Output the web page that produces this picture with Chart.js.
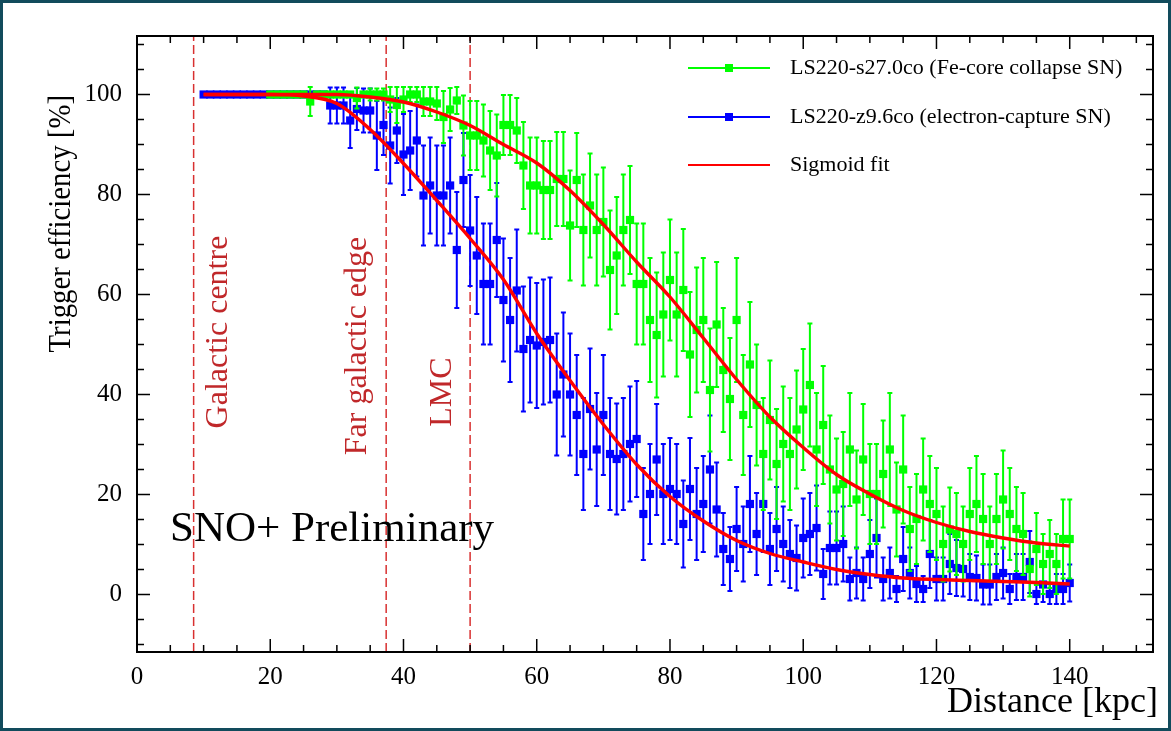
<!DOCTYPE html>
<html><head><meta charset="utf-8">
<script src="https://cdn.jsdelivr.net/npm/chart.js@4.4.0/dist/chart.umd.min.js"></script>
<style>html,body{margin:0;padding:0;background:#fff;}canvas{display:block;}</style>
</head><body>
<canvas id="c" width="1171" height="731"></canvas>
<script>
// ---------- data ----------
const distBlue = [10,11,12,13,14,15,16,17,18,19,20,21,22,23,24,25,26,27,28,29,30,31,32,33,34,35,36,37,38,39,40,41,42,43,44,45,46,47,48,49,50,51,52,53,54,55,56,57,58,59,60,61,62,63,64,65,66,67,68,69,70,71,72,73,74,75,76,77,78,79,80,81,82,83,84,85,86,87,88,89,90,91,92,93,94,95,96,97,98,99,100,101,102,103,104,105,106,107,108,109,110,111,112,113,114,115,116,117,118,119,120,121,122,123,124,125,126,127,128,129,130,131,132,133,134,135,136,137,138,139,140];
const effBlue = [100,100,100,100,100,100,100,100,100,100,100,100,100,100,100,100,100,100,100,97.8,97.8,97.8,94.8,97.1,96.8,96.8,91.8,93.9,89.8,92.8,88,88.8,90.8,79.8,81.8,79.8,79.8,81.8,68.9,82.9,72.8,67.8,62.1,62.1,70.9,58.9,54.9,60.8,49.1,50.9,49.8,50.5,50.9,40,44,40,35.9,28.1,37.1,29,35.9,28.1,27.1,28.1,30.1,31.1,16.1,20.1,27,20.1,21.1,20.1,14.1,21.1,16.1,18.1,25,17,9.1,7.1,13.1,10.1,18.1,12.1,18.1,9.1,13.1,10.1,8.1,7.3,11.3,12.1,13.3,4.1,9.3,9.3,10.1,3.1,4.3,3.1,8.1,11.3,3.1,4.3,1.1,7.1,4.3,2.1,1.1,8.1,3.1,3.1,6.1,5.3,5.1,3.5,3.3,2,2,3.5,4.3,1.1,3.5,3.5,6.5,0.1,2,0.1,1.1,1.1,2.3];
const errBlue = [0,0,0,0,0,0,0,0,0,0,0,0,0,0,0,0,0,0,0,3.6,3.6,3.6,5.5,4.2,4.4,4.4,6.9,6.0,7.6,6.5,8.1,7.9,7.2,10,9.6,10,10,9.6,11.6,9.4,11.1,11.7,12.1,12.1,11.4,12.3,12.4,12.2,12.5,12.5,12.5,12.5,12.5,12.2,12.4,12.2,12,11.2,12.1,11.3,12,11.2,11.1,11.2,11.5,11.6,9.2,10,11.1,10,10.2,10,8.7,10.2,9.2,9.6,10.8,9.4,7.2,6.4,8.4,7.5,9.6,8.2,9.6,7.2,8.4,7.5,6.8,6.5,7.9,8.2,8.5,5,7.3,7.3,7.5,4.3,5.1,4.3,6.8,7.9,4.3,5.1,2.6,6.4,5.1,3.6,2.6,6.8,4.3,4.3,6,5.6,5.5,4.6,4.5,4,4,4.6,5.1,3,4.6,4.6,6.2,2,3.5,2,3,3,3.7];

const distGreen = [20,21,22,23,24,25,26,27,28,29,30,31,32,33,34,35,36,37,38,39,40,41,42,43,44,45,46,47,48,49,50,51,52,53,54,55,56,57,58,59,60,61,62,63,64,65,66,67,68,69,70,71,72,73,74,75,76,77,78,79,80,81,82,83,84,85,86,87,88,89,90,91,92,93,94,95,96,97,98,99,100,101,102,103,104,105,106,107,108,109,110,111,112,113,114,115,116,117,118,119,120,121,122,123,124,125,126,127,128,129,130,131,132,133,134,135,136,137,138,139,140];
const effGreen = [100,100,100,100,100,100,98.6,100,100,100,100,100,100,99.3,100,100,100,100,99,97.9,99,100,100,98.6,98.6,98.2,95.5,97,98.8,93.8,91.8,91.8,90.8,88.8,87.8,93.9,93.9,92.8,85.8,81.8,81.8,80.9,80.9,83.1,83.1,73.8,82.9,72.9,77.8,72.9,74.5,64.9,67.8,72.9,74.9,62.1,62.1,54.9,51.9,56,62.9,56,60.9,48,52.9,54.9,40.9,54,44.9,39.1,54.9,35.9,46,37.9,28.1,34.9,26.1,30.1,28.1,33,37,41.9,29,33.9,25,21,22.1,29,19,27,20.1,20.1,24.1,29,17,25,13.1,15.1,21,18.1,16.1,10.1,13,12.1,10.1,16.1,18.1,15.1,10.1,15.1,19,16.1,13.1,12.1,5.1,9.1,6.1,8.1,6.1,11.1,11.1];
const errGreen = [0,0,0,0,0,0,2.9,0,0,0,0,0,0,2.1,0,1.2,1.2,1.2,2.5,3.6,2.5,1.5,1.5,2.9,2.9,3.3,5.2,4.3,2.7,6,6.9,6.9,7.2,7.9,8.2,6,6,6.5,8.7,9.6,9.6,9.8,9.8,9.4,9.4,11,9.4,11.1,10.4,11.1,10.9,11.9,11.7,11.1,10.8,12.1,12.1,12.4,12.5,12.4,12.1,12.4,12.2,12.5,12.5,12.4,12.3,12.5,12.4,12.2,12.4,12,12.5,12.1,11.2,11.9,11,11.5,11.2,11.8,12.1,12.3,11.3,11.8,10.8,10.2,10.4,11.3,9.8,11.1,10,10,10.7,11.3,9.4,10.8,8.4,9,10.2,9.6,9.2,7.5,8.4,8.2,7.5,9.2,9.6,9,7.5,9,9.8,9.2,8.4,8.2,5.5,7.2,6,6.8,6,7.9,7.9];

const fitX     = [10,15,20,25,30,35,40,45,50,55,60,65,70,75,80,85,90,95,100,105,110,115,120,125,130,135,140];
const fitGreen = [100,100,100,100,100,99.5,98.5,96.5,93.8,90,86.3,80.8,74,66.5,59.5,51.3,43,35.5,29.4,24,20.1,16.8,14.4,12.6,11.3,10.3,9.7];
const fitBlue  = [100,100,100,99.7,98.2,93,86.2,78.8,71.2,63,52.2,42.8,34,26,19.6,14.7,10.8,8.2,6.5,5,4,3.3,3,2.8,2.6,2.4,2.1];

const markerDist  = [8.5, 37.4, 50];
const markerNames = ['Galactic centre', 'Far galactic edge', 'LMC'];

const xTickLabels = ['0','20','40','60','80','100','120','140'];
const yTickLabels = ['0','20','40','60','80','100'];

const seriesNames = ['LS220-s27.0co (Fe-core collapse SN)', 'LS220-z9.6co (electron-capture SN)', 'Sigmoid fit'];

// ---------- chart ----------
const SERIF = "'Liberation Serif','Times New Roman',serif";
const GREEN = '#00ff00', BLUE = '#0000ff', RED = '#ff0000', DRED = '#c0282a';
const X_MIN = 0, X_MAX = 152.5, Y_MIN = -11.5, Y_MAX = 111.7;

function pts(xs, ys){ return xs.map((x,i)=>({x:x, y:ys[i]})); }

const datasets = [];
datasets.push({label: seriesNames[0], data: pts(distGreen, effGreen), errs: errGreen, showLine:false,
  pointStyle:'rect', pointRadius:5.8, pointHoverRadius:5.8, backgroundColor:GREEN, borderColor:GREEN, pointBorderWidth:0, order:2});
datasets.push({label: seriesNames[1], data: pts(distBlue, effBlue), errs: errBlue, showLine:false,
  pointStyle:'rect', pointRadius:5.8, pointHoverRadius:5.8, backgroundColor:BLUE, borderColor:BLUE, pointBorderWidth:0, order:3});
datasets.push({label: seriesNames[2], data: pts(fitX, fitGreen), showLine:true, pointRadius:0, borderColor:RED, borderWidth:3.4, cubicInterpolationMode:'monotone', order:1});
datasets.push({label: seriesNames[2]+' ', data: pts(fitX, fitBlue), showLine:true, pointRadius:0, borderColor:RED, borderWidth:3.4, cubicInterpolationMode:'monotone', order:1});
markerDist.forEach((d,i)=>{
  datasets.push({label: markerNames[i], data:[{x:d,y:Y_MIN},{x:d,y:Y_MAX}], showLine:true, pointRadius:0,
    borderColor:'#d83030', borderWidth:1.5, borderDash:[9,4], order:5});
});

const decor = {
  id:'decor',
  beforeDraw(chart){
    const c = chart.ctx; c.save(); c.fillStyle='#fff'; c.fillRect(0,0,chart.width,chart.height); c.restore();
  },
  beforeDatasetDraw(chart, args){
    const ds = chart.data.datasets[args.index];
    if(!ds.errs) return;
    const c = chart.ctx, ys = chart.scales.y, a = chart.chartArea;
    c.save();
    c.beginPath(); c.rect(a.left, a.top, a.right-a.left, a.bottom-a.top); c.clip();
    c.strokeStyle = ds.borderColor; c.lineWidth = 2;
    args.meta.data.forEach((p,i)=>{
      const e = ds.errs[i]; if(!e) return;
      const v = ds.data[i].y;
      const y1 = ys.getPixelForValue(v+e), y2 = ys.getPixelForValue(v-e);
      c.beginPath(); c.moveTo(p.x, y1); c.lineTo(p.x, y2);
      c.moveTo(p.x-2.5, y1); c.lineTo(p.x+2.5, y1);
      c.moveTo(p.x-2.5, y2); c.lineTo(p.x+2.5, y2);
      c.stroke();
    });
    c.restore();
  },
  afterDraw(chart){
    const c = chart.ctx, a = chart.chartArea, xs = chart.scales.x, ys = chart.scales.y;
    c.save();
    // frame
    c.strokeStyle='#000'; c.lineWidth=2;
    c.strokeRect(a.left, a.top, a.right-a.left, a.bottom-a.top);
    // inward ticks
    c.lineWidth=1.5;
    c.beginPath();
    for(let v=0; v<=X_MAX; v+=5){
      const px = xs.getPixelForValue(v); const L = (v%20===0)?13:7;
      c.moveTo(px, a.bottom); c.lineTo(px, a.bottom-L);
      c.moveTo(px, a.top); c.lineTo(px, a.top+L);
    }
    for(let v=-10; v<=Y_MAX; v+=5){
      const py = ys.getPixelForValue(v); const L = (v%20===0)?13:7;
      c.moveTo(a.left, py); c.lineTo(a.left+L, py);
      c.moveTo(a.right, py); c.lineTo(a.right-L, py);
    }
    c.stroke();

    // axis titles
    c.fillStyle='#000';
    c.font = '36px '+SERIF; c.textAlign='right'; c.textBaseline='alphabetic';
    c.fillText('Distance [kpc]', 1158, 712);
    c.save(); c.translate(70, 95); c.rotate(-Math.PI/2); c.scale(0.9, 1);
    c.font = '32px '+SERIF; c.textAlign='right'; c.fillText('Trigger efficiency [%]', 0, 0);
    c.restore();

    // SNO+ Preliminary
    c.font = '43px '+SERIF; c.textAlign='left'; c.textBaseline='middle';
    c.fillText('SNO+ Preliminary', 170, 530);

    // marker labels
    c.fillStyle = DRED; c.font = '32px '+SERIF;
    const labPos = [[219,332],[358,346],[443,392]];
    markerNames.forEach((t,i)=>{
      c.save(); c.translate(labPos[i][0], labPos[i][1]); c.rotate(-Math.PI/2);
      c.textAlign='center'; c.textBaseline='middle'; c.fillText(t,0,0); c.restore();
    });

    // legend
    const rows = [68,117,165], cols=[GREEN,BLUE,RED];
    c.font = '22px '+SERIF; c.textAlign='left'; c.textBaseline='middle'; c.fillStyle='#000';
    rows.forEach((y,i)=>{
      c.strokeStyle = cols[i]; c.lineWidth = 2;
      c.beginPath(); c.moveTo(688,y); c.lineTo(770,y); c.stroke();
      if(i<2){ c.fillStyle=cols[i]; c.fillRect(725,y-4,8,8); }
      c.fillStyle='#000'; c.fillText(seriesNames[i], 790, y);
    });

    // outer border
    c.strokeStyle='#124b5c'; c.lineWidth=3;
    c.strokeRect(1.5,1.5,chart.width-3,chart.height-3);
    c.restore();
  }
};

new Chart(document.getElementById('c'), {
  type:'scatter',
  data:{datasets},
  options:{
    responsive:false, animation:false, events:[],
    layout:{padding:{left:0, right:18, top:36, bottom:0}},
    plugins:{legend:{display:false}, tooltip:{enabled:false}},
    scales:{
      x:{type:'linear', min:X_MIN, max:X_MAX,
        grid:{display:false, drawTicks:false},
        border:{display:true, color:'#000', width:2},
        afterFit(s){ s.height = 79; },
        ticks:{stepSize:20, includeBounds:false, padding:10, color:'#000',
          font:{family:SERIF, size:25},
          callback(v){ const i = xTickLabels.indexOf(String(v)); return i>=0 ? xTickLabels[i] : ''; }}
      },
      y:{type:'linear', min:Y_MIN, max:Y_MAX,
        grid:{display:false, drawTicks:false},
        border:{display:true, color:'#000', width:2},
        afterFit(s){ s.width = 137; },
        ticks:{stepSize:20, includeBounds:false, padding:15, color:'#000',
          font:{family:SERIF, size:25},
          callback(v){ const i = yTickLabels.indexOf(String(v)); return i>=0 ? yTickLabels[i] : ''; }}
      }
    }
  },
  plugins:[decor]
});
</script>
</body></html>
